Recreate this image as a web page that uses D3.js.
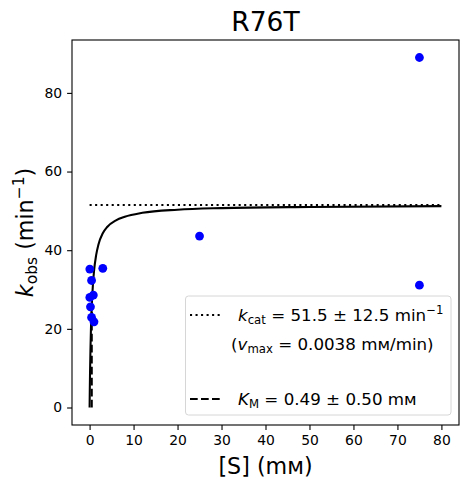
<!DOCTYPE html>
<html lang="en">
<head>
    <meta charset="UTF-8">
    <title>R76T kinetics</title>
    <script src="https://d3js.org/d3.v7.min.js"></script>
    <style>
        body, html {
            margin: 0;
            padding: 0;
            overflow: hidden;
            background: #fff;
        }
        svg {
            display: block;
            font-family: "DejaVu Sans", sans-serif;
        }
    </style>
</head>
<body>
    <svg width="469" height="484"></svg>

    <script>
        // measured points: substrate (mM) and k_obs (1/min)
        const substrate = [0.05, 3, 0.45, 0.85, 0.05, 0.2, 0.45, 1.0, 25, 75, 75];
        const kobs      = [35.2, 35.4, 32.3, 28.6, 28.0, 25.6, 22.9, 21.8, 43.6, 89.0, 31.1];

        // fitted curve
        const fitS = [0, 0.05, 0.1, 0.2, 0.3, 0.49, 0.75, 1, 1.5, 2, 3, 4, 6, 8, 12, 20, 30, 50, 80];
        const fitK = [0, 4.8, 8.7, 14.9, 19.6, 25.75, 31.1, 34.6, 38.8, 41.4, 44.3, 45.9, 47.6, 48.5, 49.5, 50.3, 50.7, 51.0, 51.2];

        const kcat = 51.5;
        const km = 0.49;
        const sRange = [0, 80];

        const xTicks = [0, 10, 20, 30, 40, 50, 60, 70, 80];
        const yTicks = [0, 20, 40, 60, 80];

        const svg = d3.select("svg");
        const mLeft = 72, mTop = 40, w = 387, h = 385;

        // matplotlib style 5% margins
        const xExt = [0, 80];
        const yExt = [0, d3.max(kobs)];
        const xPad = (xExt[1] - xExt[0]) * 0.05;
        const yPad = (yExt[1] - yExt[0]) * 0.05;

        const x = d3.scaleLinear().domain([xExt[0] - xPad, xExt[1] + xPad]).range([mLeft, mLeft + w]);
        const y = d3.scaleLinear().domain([yExt[0] - yPad, yExt[1] + yPad]).range([mTop + h, mTop]);

        const g = svg.append("g");

        // fit curve
        const line = d3.line()
            .x(d => x(d[0]))
            .y(d => y(d[1]))
            .curve(d3.curveMonotoneX);

        g.append("path")
            .attr("d", line(fitS.map((s, i) => [s, fitK[i]])))
            .attr("fill", "none")
            .attr("stroke", "#000")
            .attr("stroke-width", 2.08);

        // kcat dotted line
        g.append("line")
            .attr("x1", x(sRange[0])).attr("x2", x(sRange[1]))
            .attr("y1", y(kcat)).attr("y2", y(kcat))
            .attr("stroke", "#000")
            .attr("stroke-width", 2.08)
            .attr("stroke-dasharray", "2.08,3.44");

        // KM dashed lines
        g.append("line")
            .attr("x1", x(km)).attr("x2", x(km))
            .attr("y1", y(0)).attr("y2", y(kcat / 2))
            .attr("stroke", "#000")
            .attr("stroke-width", 2.08)
            .attr("stroke-dasharray", "7.7,3.3");
        g.append("line")
            .attr("x1", x(0)).attr("x2", x(km))
            .attr("y1", y(kcat / 2)).attr("y2", y(kcat / 2))
            .attr("stroke", "#000")
            .attr("stroke-width", 2.08)
            .attr("stroke-dasharray", "7.7,3.3");

        // data points
        g.selectAll("circle")
            .data(substrate.map((s, i) => [s, kobs[i]]))
            .enter().append("circle")
            .attr("cx", d => x(d[0]))
            .attr("cy", d => y(d[1]))
            .attr("r", 4.4)
            .attr("fill", "#0000ff");

        // axes
        const xAxis = svg.append("g")
            .attr("transform", `translate(0,${mTop + h})`)
            .call(d3.axisBottom(x).tickValues(xTicks).tickSize(4.9).tickPadding(4.9));
        const yAxis = svg.append("g")
            .attr("transform", `translate(${mLeft},0)`)
            .call(d3.axisLeft(y).tickValues(yTicks).tickSize(4.9).tickPadding(4.9));

        [xAxis, yAxis].forEach(a => {
            a.select(".domain").remove();
            a.selectAll("line").attr("stroke", "#000").attr("stroke-width", 1.1);
            a.selectAll("text")
                .attr("font-family", "DejaVu Sans, sans-serif")
                .attr("font-size", 13.9)
                .attr("fill", "#000");
        });

        svg.append("rect")
            .attr("x", mLeft).attr("y", mTop)
            .attr("width", w).attr("height", h)
            .attr("fill", "none")
            .attr("stroke", "#000")
            .attr("stroke-width", 1.1);

        // title
        svg.append("text")
            .attr("x", mLeft + w / 2).attr("y", 31)
            .attr("text-anchor", "middle")
            .attr("font-size", 26.5)
            .text("R76T");

        // x label
        svg.append("text")
            .attr("x", mLeft + w / 2).attr("y", 474)
            .attr("text-anchor", "middle")
            .attr("font-size", 22.2)
            .text("[S] (mᴍ)");

        // y label
        const yl = svg.append("text")
            .attr("transform", `translate(33,${mTop + h / 2}) rotate(-90)`)
            .attr("text-anchor", "middle")
            .attr("font-size", 22.2);
        yl.append("tspan").attr("font-style", "italic").text("k");
        yl.append("tspan").attr("font-size", 15.5).attr("dy", 4).text("obs");
        yl.append("tspan").attr("dy", -4).text(" (min");
        yl.append("tspan").attr("font-size", 15.5).attr("dy", -9).text("−1");
        yl.append("tspan").attr("dy", 9).text(")");

        // legend
        const lg = svg.append("g");
        lg.append("rect")
            .attr("x", 185.5).attr("y", 296)
            .attr("width", 265.5).attr("height", 119)
            .attr("rx", 3)
            .attr("fill", "#fff").attr("fill-opacity", 0.8)
            .attr("stroke", "#d6d6d6").attr("stroke-width", 1);

        const fs = 16.7, sub = 11.7;
        const rows = [315, 344, 371, 399];

        lg.append("line")
            .attr("x1", 190).attr("x2", 220)
            .attr("y1", rows[0]).attr("y2", rows[0])
            .attr("stroke", "#000").attr("stroke-width", 2.08)
            .attr("stroke-dasharray", "2.08,3.44");
        lg.append("line")
            .attr("x1", 190).attr("x2", 220)
            .attr("y1", rows[3]).attr("y2", rows[3])
            .attr("stroke", "#000").attr("stroke-width", 2.08)
            .attr("stroke-dasharray", "7.7,3.3");

        const t1 = lg.append("text").attr("x", 238).attr("y", rows[0] + 6).attr("font-size", fs);
        t1.append("tspan").attr("font-style", "italic").text("k");
        t1.append("tspan").attr("font-size", sub).attr("dy", 3).text("cat");
        t1.append("tspan").attr("dy", -3).text(" = 51.5 ± 12.5 min");
        t1.append("tspan").attr("font-size", sub).attr("dy", -7).text("−1");

        const t2 = lg.append("text").attr("x", 231).attr("y", rows[1] + 6).attr("font-size", fs);
        t2.append("tspan").text("(");
        t2.append("tspan").attr("font-style", "italic").text("v");
        t2.append("tspan").attr("font-size", sub).attr("dy", 3).text("max");
        t2.append("tspan").attr("dy", -3).text(" = 0.0038 mᴍ/min)");

        const t4 = lg.append("text").attr("x", 238).attr("y", rows[3] + 6).attr("font-size", fs);
        t4.append("tspan").attr("font-style", "italic").text("K");
        t4.append("tspan").attr("font-size", sub).attr("dy", 3).text("M");
        t4.append("tspan").attr("dy", -3).text(" = 0.49 ± 0.50 mᴍ");
    </script>
</body>
</html>
